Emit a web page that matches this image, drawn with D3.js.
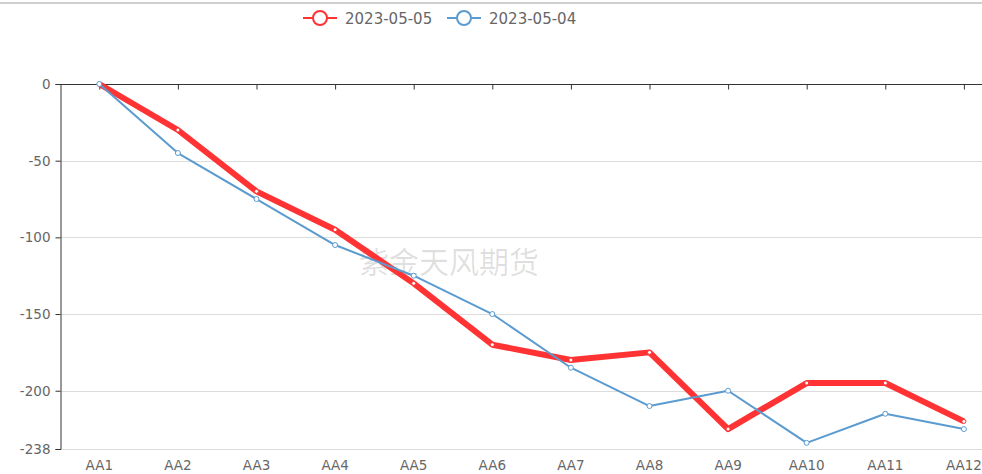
<!DOCTYPE html>
<html>
<head>
<meta charset="utf-8">
<script src="https://cdn.jsdelivr.net/npm/d3@7/dist/d3.min.js"></script>
<style>
html,body{margin:0;padding:0;background:#fff;}
svg{display:block;font-family:"DejaVu Sans","Noto Sans",sans-serif;}
</style>
</head>
<body>
<svg id="chart" width="982" height="474"></svg>
<script>
const categories = ["AA1","AA2","AA3","AA4","AA5","AA6","AA7","AA8","AA9","AA10","AA11","AA12"];
const seriesNames = ["2023-05-05","2023-05-04"];
const values0505 = [0,-30,-70,-95,-130,-170,-180,-175,-225,-195,-195,-220];
const values0504 = [0,-45,-75,-105,-125,-150,-185,-210,-200,-234,-215,-225];
const yTicks = [0,-50,-100,-150,-200,-238];
const colors = ["#ff3333","#5b9bd0"];
const widths = [6,2];

(function(){
const svg = d3.select("#chart");
const plotLeft = 60, plotTop = 84, plotBottom = 449;
const band = 78.6;
const fs = "13.5px";
const x = d3.scalePoint().domain(categories).range([plotLeft, plotLeft + band*categories.length]).padding(0.5);
const y = d3.scaleLinear().domain([-238, 0]).range([plotBottom, plotTop]);

// top border line
svg.append("line").attr("x1",0).attr("x2",982).attr("y1",3).attr("y2",3)
  .attr("stroke","#cfcfcf").attr("stroke-width",2);

// gridlines
svg.append("g").selectAll("line").data(yTicks.filter(d=>d!==0)).join("line")
  .attr("x1",plotLeft).attr("x2",982).attr("y1",d=>Math.round(y(d))+0.5).attr("y2",d=>Math.round(y(d))+0.5)
  .attr("stroke","#dcdcdc").attr("stroke-width",1);

// y axis
const yAxis = svg.append("g").attr("transform",`translate(${plotLeft+0.5},0)`)
  .call(d3.axisLeft(y).tickValues(yTicks).tickSize(5).tickPadding(5).tickFormat(d=>d));
yAxis.select(".domain").attr("stroke","#333");
yAxis.selectAll(".tick line").attr("stroke","#333");
yAxis.selectAll(".tick text").attr("fill","#666").style("font-size",fs).style("font-family","DejaVu Sans");

// x axis line at zero (top)
const xAxis = svg.append("g").attr("transform",`translate(0,${Math.round(y(0))+0.5})`)
  .call(d3.axisBottom(x).tickSize(5).tickFormat(""));
xAxis.select(".domain").attr("stroke","#333").attr("d",`M${plotLeft},0H982`);
xAxis.selectAll(".tick line").attr("stroke","#333");

// x labels at bottom
svg.append("g").selectAll("text").data(categories).join("text")
  .attr("x",d=>x(d)).attr("y",plotBottom+21).attr("text-anchor","middle")
  .attr("fill","#666").style("font-size",fs).text(d=>d);

// watermark
svg.append("text").attr("x",449).attr("y",273).attr("text-anchor","middle")
  .attr("fill","#000").attr("fill-opacity",0.12)
  .style("font-family","'Noto Sans CJK SC',sans-serif").style("font-size","30px")
  .text("紫金天风期货");

const data = [values0505, values0504];
const line = d3.line().x((d,i)=>x(categories[i])).y(d=>y(d));
data.forEach((vals,k)=>{
  svg.append("path").datum(vals).attr("d",line).attr("fill","none")
    .attr("stroke",colors[k]).attr("stroke-width",widths[k]).attr("stroke-linejoin","round");
  svg.append("g").selectAll("circle").data(vals).join("circle")
    .attr("cx",(d,i)=>x(categories[i])).attr("cy",d=>y(d)).attr("r",k===0?2:2.5)
    .attr("fill","#fff").attr("stroke",colors[k]).attr("stroke-width",1);
});

// legend
const legendX = [303, 447];
seriesNames.forEach((n,k)=>{
  const g = svg.append("g").attr("transform",`translate(${legendX[k]},18)`);
  g.append("line").attr("x1",0).attr("x2",34).attr("y1",0).attr("y2",0)
    .attr("stroke",colors[k]).attr("stroke-width",2);
  g.append("circle").attr("cx",17).attr("cy",0).attr("r",7)
    .attr("fill","#fff").attr("stroke",colors[k]).attr("stroke-width",2);
  g.append("text").attr("x",42).attr("y",5.5).attr("fill","#666")
    .style("font-size","15px").text(n);
});
})();
</script>
</body>
</html>
